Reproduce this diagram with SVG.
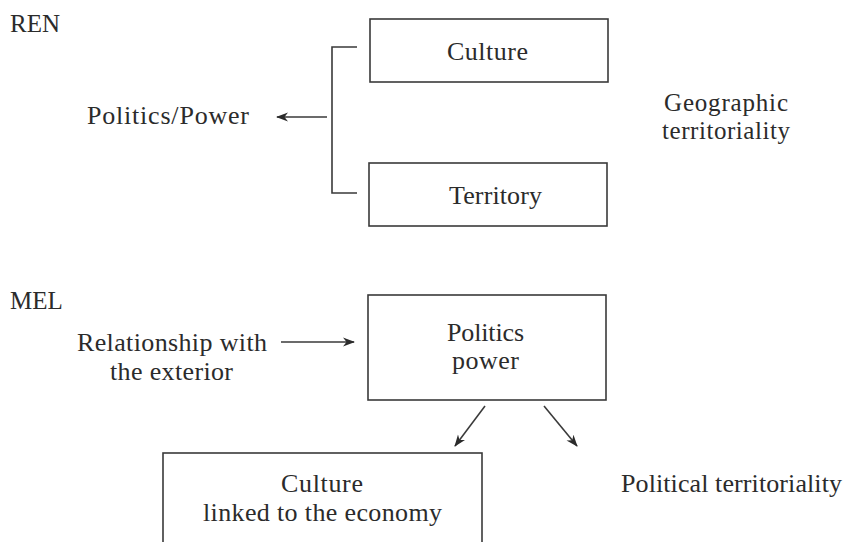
<svg xmlns="http://www.w3.org/2000/svg" width="845" height="542" viewBox="0 0 845 542">
<style>
text{font-family:"Liberation Serif","Times New Roman",serif;font-size:26px;fill:#2b2b2b}
.s{font-size:25px}
.box{fill:none;stroke:#3a3a3a;stroke-width:1.6}
.ln{fill:none;stroke:#3a3a3a;stroke-width:1.6}
</style>
<defs>
<marker id="ah" viewBox="0 0 12 10" refX="11" refY="5" markerWidth="12" markerHeight="10" markerUnits="userSpaceOnUse" orient="auto">
<path d="M0,0.5 L12,5 L0,9.5 L3.5,5 Z" fill="#2b2b2b"/>
</marker>
</defs>
<rect width="845" height="542" fill="#fff"/>
<g id="label-ren"><text class="s" x="10" y="32">REN</text></g>
<g id="culture"><rect class="box" x="370" y="19" width="238" height="63"/><text x="447" y="60" textLength="81" lengthAdjust="spacing">Culture</text></g>
<g id="territory"><rect class="box" x="369" y="163" width="238" height="63"/><text x="449" y="204" textLength="93" lengthAdjust="spacing">Territory</text></g>
<g id="politics-power"><text x="87" y="124" textLength="162" lengthAdjust="spacing">Politics/Power</text></g>
<g id="geographic"><text class="s" x="664" y="111" textLength="124" lengthAdjust="spacing">Geographic</text><text class="s" x="662" y="139" textLength="128" lengthAdjust="spacing">territoriality</text></g>
<g id="label-mel"><text class="s" x="10" y="309">MEL</text></g>
<g id="relationship"><text x="77" y="351" textLength="190" lengthAdjust="spacing">Relationship with</text><text x="110" y="380" textLength="123" lengthAdjust="spacing">the exterior</text></g>
<g id="politics-box"><rect class="box" x="368" y="295" width="238" height="105"/><text x="447" y="341" textLength="77" lengthAdjust="spacing">Politics</text><text x="452" y="369" textLength="67" lengthAdjust="spacing">power</text></g>
<g id="culture-economy"><rect class="box" x="163" y="453" width="319" height="100"/><text x="281" y="492" textLength="82" lengthAdjust="spacing">Culture</text><text x="203" y="521" textLength="239" lengthAdjust="spacing">linked to the economy</text></g>
<g id="political-territoriality"><text x="621" y="492" textLength="221" lengthAdjust="spacing">Political territoriality</text></g>
<g id="connectors">
<polyline class="ln" points="357,47 332,47 332,193 357,193"/>
<line class="ln" x1="327" y1="117" x2="277" y2="117" marker-end="url(#ah)"/>
<line class="ln" x1="281" y1="342" x2="354" y2="342" marker-end="url(#ah)"/>
<line class="ln" x1="485" y1="406" x2="455" y2="446" marker-end="url(#ah)"/>
<line class="ln" x1="544" y1="406" x2="577" y2="446" marker-end="url(#ah)"/>
</g>
</svg>
